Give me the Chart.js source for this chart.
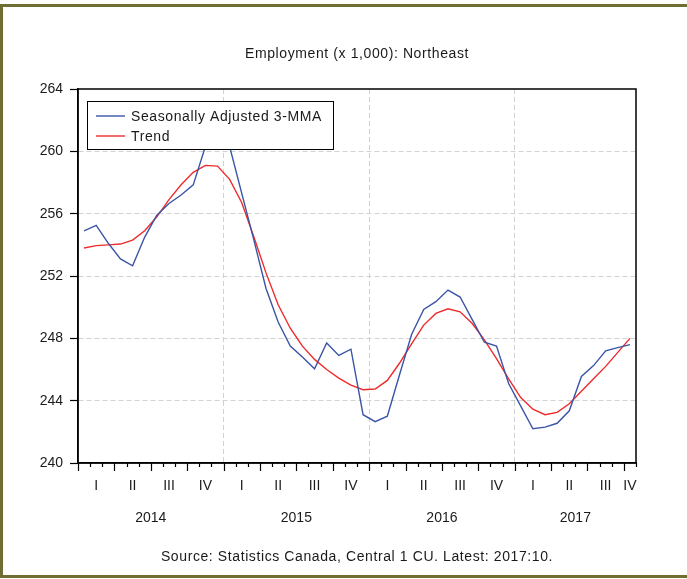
<!DOCTYPE html>
<html>
<head>
<meta charset="utf-8">
<title>Employment (x 1,000): Northeast</title>
<script src="https://cdn.jsdelivr.net/npm/chart.js@4"></script>
<style>
  body { margin: 0; background: #fff; }
  #wrap { position: relative; width: 687px; height: 579px; overflow: hidden; }
  #frame {
    position: absolute; left: 0; top: 4px; width: 700px; height: 568px;
    border: 3px solid #6f6f33; pointer-events: none;
  }
</style>
</head>
<body>
<div id="wrap">
  <canvas id="chart" width="687" height="579"></canvas>
  <div id="frame"></div>
</div>
<script>
// monthly, Jan 2014 .. Oct 2017
var years = ['2014', '2015', '2016', '2017'];
var quarterLabels = ['I', 'II', 'III', 'IV'];
var seriesNames = ['Seasonally Adjusted 3-MMA', 'Trend'];

var sa3mma = [
    254.9, 255.25, 254.1, 253.1, 252.65, 254.5, 255.9, 256.65, 257.2, 257.85, 260.3, 261.4,
    260.3, 257.3, 254.3, 251.2, 249.05, 247.5, 246.8, 246.05, 247.7, 246.9, 247.3, 243.1,
    242.65, 243.0, 245.65, 248.25, 249.85, 250.35, 251.1, 250.65, 249.2, 247.75, 247.5, 245.1,
    243.65, 242.2, 242.3, 242.55, 243.35, 245.55, 246.25, 247.2, 247.4, 247.6
];
var trend = [
    253.8, 253.95, 254.0, 254.05, 254.3, 254.9, 255.8, 256.9, 257.85, 258.65, 259.1, 259.05,
    258.2, 256.7, 254.5, 252.2, 250.15, 248.65, 247.5, 246.65, 246.0, 245.45, 245.0, 244.7,
    244.75, 245.3, 246.4, 247.65, 248.85, 249.6, 249.9, 249.7, 248.95, 247.9, 246.7, 245.4,
    244.2, 243.45, 243.1, 243.25, 243.8, 244.6, 245.4, 246.2, 247.1, 248.0
];

var nMonths = sa3mma.length;
var FONT = "'Liberation Sans', Arial, sans-serif";
var TXT = '#1a1a1a';

// month i is plotted in the middle of its slot on a 0..nMonths axis
function toPoints(arr) {
    return arr.map(function (v, i) { return { x: i + 0.5, y: v }; });
}

// quarter centres (label positions) and year centres
var quarterTicks = [];
var yearTicks = [];
years.forEach(function (yr, y) {
    for (var q = 0; q < 4; q++) {
        var s = y * 12 + q * 3;
        if (s >= nMonths) break;
        var e = Math.min(s + 3, nMonths);
        quarterTicks.push({ value: (s + e) / 2, label: quarterLabels[q] });
    }
    var ys = y * 12, ye = Math.min(ys + 12, nMonths);
    yearTicks.push({ value: (ys + ye) / 2, label: yr });
});

var decor = {
    id: 'decor',
    afterDatasetsDraw: function (chart) {
        // legend box
        var ctx = chart.ctx, a = chart.chartArea;
        var bx = a.left + 9, by = a.top + 12, bw = 246, bh = 48;
        ctx.save();
        ctx.fillStyle = '#fff';
        ctx.fillRect(bx, by, bw, bh);
        ctx.strokeStyle = '#000';
        ctx.lineWidth = 1;
        ctx.strokeRect(bx + 0.5, by + 0.5, bw, bh);
        ctx.font = '14px ' + FONT;
        ctx.letterSpacing = '0.6px';
        ctx.textBaseline = 'middle';
        chart.data.datasets.forEach(function (ds, k) {
            var ly = by + 15 + k * 20;
            ctx.strokeStyle = ds.borderColor;
            ctx.lineWidth = 1.4;
            ctx.beginPath();
            ctx.moveTo(bx + 9, ly);
            ctx.lineTo(bx + 38, ly);
            ctx.stroke();
            ctx.fillStyle = TXT;
            ctx.fillText(ds.label, bx + 44, ly + 1);
        });
        ctx.restore();
    },
    afterDraw: function (chart) {
        var ctx = chart.ctx, a = chart.chartArea;
        var xs = chart.scales.x;
        ctx.save();
        // plot frame
        ctx.strokeStyle = '#000';
        ctx.lineWidth = 1.5;
        ctx.strokeRect(a.left, a.top, a.right - a.left, a.bottom - a.top);
        // month ticks, longer on quarter boundaries
        ctx.lineWidth = 1.2;
        ctx.beginPath();
        for (var i = 0; i <= nMonths; i++) {
            var px = Math.round(xs.getPixelForValue(i)) + 0.5;
            var len = (i % 3 === 0) ? 8 : 4;
            ctx.moveTo(px, a.bottom);
            ctx.lineTo(px, a.bottom + len);
        }
        ctx.stroke();
        // title and source
        ctx.fillStyle = TXT;
        ctx.font = '14px ' + FONT;
        ctx.letterSpacing = '0.6px';
        ctx.textAlign = 'center';
        ctx.textBaseline = 'middle';
        var cx = (a.left + a.right) / 2;
        ctx.fillText('Employment (x 1,000): Northeast', cx, 54);
        ctx.fillText('Source: Statistics Canada, Central 1 CU. Latest: 2017:10.', cx, 557);
        ctx.restore();
    }
};

var ctx = document.getElementById('chart');
var chart = new Chart(ctx, {
    type: 'line',
    data: {
        datasets: [
            {
                label: seriesNames[0],
                data: toPoints(sa3mma),
                borderColor: '#3b55a6',
                borderWidth: 1.4,
                pointRadius: 0,
                tension: 0,
                fill: false
            },
            {
                label: seriesNames[1],
                data: toPoints(trend),
                borderColor: '#ee2b2b',
                borderWidth: 1.4,
                pointRadius: 0,
                tension: 0,
                fill: false
            }
        ]
    },
    options: {
        responsive: false,
        animation: false,
        layout: { padding: { top: 89, right: 51, bottom: 52.6, left: 0 } },
        plugins: {
            legend: { display: false },
            title: { display: false },
            tooltip: { enabled: false }
        },
        scales: {
            x: {
                type: 'linear',
                position: 'bottom',
                weight: 0,
                min: 0,
                max: nMonths,
                afterBuildTicks: function (scale) {
                    var t = [];
                    [12, 24, 36].forEach(function (v) { t.push({ value: v }); });
                    quarterTicks.forEach(function (q) { t.push({ value: q.value }); });
                    t.sort(function (p, q) { return p.value - q.value; });
                    scale.ticks = t;
                },
                afterFit: function (scale) { scale.height = 31.4; },
                ticks: {
                    autoSkip: false,
                    maxRotation: 0,
                    padding: 14.6,
                    color: TXT,
                    font: { family: FONT, size: 14 },
                    callback: function (value) {
                        for (var k = 0; k < quarterTicks.length; k++) {
                            if (quarterTicks[k].value === value) return quarterTicks[k].label;
                        }
                        return '';
                    }
                },
                grid: {
                    drawTicks: false,
                    lineWidth: 1,
                    color: function (c) {
                        return (c.tick && c.tick.value % 12 === 0) ? '#d2d2d2' : 'rgba(0,0,0,0)';
                    }
                },
                border: { display: true, color: '#000', width: 1.5, dash: [5, 3] }
            },
            x2: {
                type: 'linear',
                position: 'bottom',
                weight: 1,
                min: 0,
                max: nMonths,
                afterBuildTicks: function (scale) {
                    scale.ticks = yearTicks.map(function (y) { return { value: y.value }; });
                },
                afterFit: function (scale) { scale.height = 32; },
                ticks: {
                    autoSkip: false,
                    maxRotation: 0,
                    padding: 15.2,
                    color: TXT,
                    font: { family: FONT, size: 14 },
                    callback: function (value) {
                        for (var k = 0; k < yearTicks.length; k++) {
                            if (yearTicks[k].value === value) return yearTicks[k].label;
                        }
                        return '';
                    }
                },
                grid: { display: false, drawTicks: false },
                border: { display: false }
            },
            y: {
                min: 240,
                max: 264,
                afterFit: function (scale) { scale.width = 78; },
                ticks: {
                    stepSize: 4,
                    padding: 7,
                    color: TXT,
                    font: { family: FONT, size: 14 }
                },
                grid: {
                    tickLength: 8,
                    tickColor: '#000',
                    tickWidth: 1.2,
                    lineWidth: 1,
                    color: function (c) {
                        var v = c.tick ? c.tick.value : null;
                        return (v === 240 || v === 264) ? 'rgba(0,0,0,0)' : '#d2d2d2';
                    }
                },
                border: { display: true, color: '#000', width: 1.5, dash: [5, 3] }
            }
        }
    },
    plugins: [decor]
});
</script>
</body>
</html>
